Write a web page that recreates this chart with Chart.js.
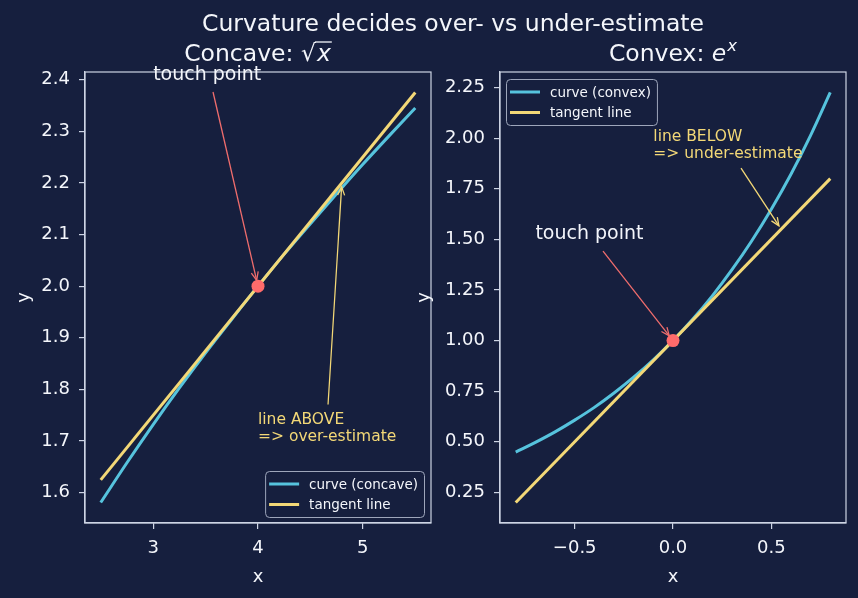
<!DOCTYPE html>
<html>
<head>
<meta charset="utf-8">
<script src="https://cdn.jsdelivr.net/npm/chart.js@4.4.0/dist/chart.umd.min.js"></script>
<style>
html, body { margin: 0; padding: 0; background: #161f3e; }
#wrap { position: relative; width: 858px; height: 598px; }
#wrap canvas { position: absolute; left: 0; top: 0; }
</style>
</head>
<body>
<div id="wrap">
  <canvas id="concaveChart" width="858" height="598"></canvas>
  <canvas id="convexChart" width="858" height="598"></canvas>
</div>
<script>
// Concave panel: sqrt(x) and its tangent at x = 4
const concaveX = [2.5, 2.75, 3.0, 3.25, 3.5, 3.75, 4.0, 4.25, 4.5, 4.75, 5.0, 5.25, 5.5];
const concaveY = [1.581, 1.658, 1.732, 1.803, 1.871, 1.936, 2.000, 2.062, 2.121, 2.179, 2.236, 2.291, 2.345];
const concaveTangentX = [2.5, 5.5];
const concaveTangentY = [1.625, 2.375];
const concaveTouch = [4, 2];
const concaveXTicks = [3, 4, 5];
const concaveYTicks = [1.6, 1.7, 1.8, 1.9, 2.0, 2.1, 2.2, 2.3, 2.4];

// Convex panel: e^x and its tangent at x = 0
const convexX = [-0.8, -0.7, -0.6, -0.5, -0.4, -0.3, -0.2, -0.1, 0.0, 0.1, 0.2, 0.3, 0.4, 0.5, 0.6, 0.7, 0.8];
const convexY = [0.449, 0.497, 0.549, 0.607, 0.670, 0.741, 0.819, 0.905, 1.000, 1.105, 1.221, 1.350, 1.492, 1.649, 1.822, 2.014, 2.226];
const convexTangentX = [-0.8, 0.8];
const convexTangentY = [0.2, 1.8];
const convexTouch = [0, 1];
const convexXTicks = [-0.5, 0.0, 0.5];
const convexYTicks = [0.25, 0.50, 0.75, 1.00, 1.25, 1.50, 1.75, 2.00, 2.25];

const FONT = "'DejaVu Sans', sans-serif";
const CYAN = '#56c3dd';
const YELLOW = '#f3d877';
const RED = '#ff6b6b';
const ARROW_RED = '#f06d6d';
const SPINE = '#cdd4e4';
const TEXT = '#f4f6fb';
const BG = '#161f3e';

Chart.defaults.font.family = FONT;
Chart.defaults.color = TEXT;

function pts(xs, ys) {
    return xs.map((x, i) => ({ x: x, y: ys[i] }));
}

function fmt(v, digits) {
    const s = Math.abs(v).toFixed(digits);
    return v < -1e-9 ? '\u2212' + s : s;
}

function drawArrow(ctx, x1, y1, x2, y2, color, shrink) {
    const ang = Math.atan2(y2 - y1, x2 - x1);
    const ex = x2 - Math.cos(ang) * shrink;
    const ey = y2 - Math.sin(ang) * shrink;
    ctx.strokeStyle = color;
    ctx.lineWidth = 1.3;
    ctx.beginPath();
    ctx.moveTo(x1, y1);
    ctx.lineTo(ex, ey);
    ctx.stroke();
    const hl = 9, hw = 0.4;
    ctx.beginPath();
    ctx.moveTo(ex - hl * Math.cos(ang - hw), ey - hl * Math.sin(ang - hw));
    ctx.lineTo(ex, ey);
    ctx.lineTo(ex - hl * Math.cos(ang + hw), ey - hl * Math.sin(ang + hw));
    ctx.stroke();
}

// frame, titles, annotations and legend box
function makeDecor(cfg) {
    return {
        id: 'decor',
        afterDraw(chart) {
            const { ctx, chartArea: a, scales } = chart;
            const px = v => scales.x.getPixelForValue(v);
            const py = v => scales.y.getPixelForValue(v);
            ctx.save();

            ctx.strokeStyle = SPINE;
            ctx.lineWidth = 1.2;
            ctx.strokeRect(a.left, a.top, a.right - a.left, a.bottom - a.top);

            // annotations
            cfg.notes.forEach(n => {
                drawArrow(ctx, px(n.from[0]), py(n.from[1]), px(n.to[0]), py(n.to[1]), n.arrow, n.shrink);
                ctx.fillStyle = n.color;
                ctx.font = n.size + 'px ' + FONT;
                ctx.textAlign = 'left';
                ctx.textBaseline = 'alphabetic';
                const lines = n.text.split('\n');
                lines.forEach((t, i) => {
                    ctx.fillText(t, px(n.at[0]), py(n.at[1]) - (lines.length - 1 - i) * n.spacing);
                });
            });

            // legend
            const lg = cfg.legend;
            const items = chart.data.datasets.filter(d => d.label).sort((p, q) => p.legendIndex - q.legendIndex);
            ctx.font = '13.5px ' + FONT;
            const tw = Math.max(...items.map(d => ctx.measureText(d.label).width));
            const w = 4 + 30 + 10 + tw + 6, h = 46;
            const bx = lg.corner === 'br' ? a.right - 7 - w : a.left + 6;
            const by = lg.corner === 'br' ? a.bottom - 6 - h : a.top + 7;
            ctx.fillStyle = BG;
            ctx.strokeStyle = '#9ea6bb';
            ctx.lineWidth = 1;
            ctx.beginPath();
            ctx.roundRect(bx + 0.5, by + 0.5, w, h, 4);
            ctx.fill();
            ctx.stroke();
            items.forEach((d, i) => {
                const ly = by + 13 + i * 20.5;
                ctx.strokeStyle = d.borderColor;
                ctx.lineWidth = 3;
                ctx.beginPath();
                ctx.moveTo(bx + 4, ly);
                ctx.lineTo(bx + 34, ly);
                ctx.stroke();
                ctx.fillStyle = TEXT;
                ctx.textBaseline = 'middle';
                ctx.fillText(d.label, bx + 44, ly + 1);
            });

            // axes title (mathtext-like)
            const cx = (a.left + a.right) / 2;
            const base = a.top - 11;
            ctx.fillStyle = TEXT;
            ctx.textBaseline = 'alphabetic';
            ctx.textAlign = 'left';
            const reg = '23.5px ' + FONT, ita = 'italic 23.5px ' + FONT, sup = 'italic 16.5px ' + FONT;
            if (cfg.kind === 'sqrt') {
                ctx.font = reg; const w1 = ctx.measureText('Concave: ').width;
                const w2 = ctx.measureText('\u221a').width;
                ctx.font = ita; const w3 = ctx.measureText('x').width + 2;
                let x0 = cx - (w1 + w2 + w3) / 2;
                ctx.font = reg;
                ctx.fillText('Concave: ', x0, base);
                ctx.fillText('\u221a', x0 + w1, base);
                ctx.font = ita;
                ctx.fillText('x', x0 + w1 + w2 + 1, base);
                ctx.strokeStyle = TEXT; ctx.lineWidth = 1.3;
                ctx.beginPath();
                ctx.moveTo(x0 + w1 + w2 - 1, base - 19);
                ctx.lineTo(x0 + w1 + w2 + w3, base - 19);
                ctx.stroke();
            } else {
                ctx.font = reg; const w1 = ctx.measureText('Convex: ').width;
                ctx.font = ita; const w2 = ctx.measureText('e').width + 1;
                ctx.font = sup; const w3 = ctx.measureText('x').width;
                let x0 = cx - (w1 + w2 + w3) / 2;
                ctx.font = reg; ctx.fillText('Convex: ', x0, base);
                ctx.font = ita; ctx.fillText('e', x0 + w1, base);
                ctx.font = sup; ctx.fillText('x', x0 + w1 + w2, base - 10);
            }

            if (cfg.suptitle) {
                ctx.font = '23.5px ' + FONT;
                ctx.textAlign = 'center';
                ctx.fillText(cfg.suptitle, 453, 31);
            }
            ctx.restore();
        }
    };
}

function panelOptions(p) {
    return {
        responsive: false,
        animation: false,
        devicePixelRatio: 1,
        layout: { padding: { left: p.padLeft, right: p.padRight, top: 72, bottom: 10 } },
        plugins: { legend: { display: false }, tooltip: { enabled: false } },
        scales: {
            x: {
                type: 'linear', min: p.xMin, max: p.xMax,
                afterBuildTicks: axis => { axis.ticks = p.xTicks.map(v => ({ value: v })); },
                afterFit: axis => { axis.height = 65; },
                ticks: { color: TEXT, font: { size: 18 }, padding: 9, maxRotation: 0,
                         callback: v => fmt(v, p.xDigits) },
                grid: { drawOnChartArea: false, drawTicks: true, tickLength: 6, color: SPINE, lineWidth: 1.2 },
                border: { display: true, color: SPINE, width: 1.2 },
                title: { display: true, text: 'x', color: TEXT, font: { size: 18 }, padding: 0 }
            },
            y: {
                type: 'linear', min: p.yMin, max: p.yMax,
                afterBuildTicks: axis => { axis.ticks = p.yTicks.map(v => ({ value: v })); },
                afterFit: axis => { axis.width = p.yWidth; },
                ticks: { color: TEXT, font: { size: 18 }, padding: 9,
                         callback: v => fmt(v, p.yDigits) },
                grid: { drawOnChartArea: false, drawTicks: true, tickLength: 6, color: SPINE, lineWidth: 1.2 },
                border: { display: true, color: SPINE, width: 1.2 },
                title: { display: true, text: 'y', color: TEXT, font: { size: 18 }, padding: 0 }
            }
        }
    };
}

function panelData(curveLabel, cx, cy, tx, ty, touch) {
    return {
        datasets: [
            { data: [{ x: touch[0], y: touch[1] }], showLine: false, pointRadius: 6.5,
              pointBackgroundColor: RED, pointBorderWidth: 0, order: 0 },
            { label: 'tangent line', legendIndex: 1, data: pts(tx, ty), showLine: true,
              borderColor: YELLOW, borderWidth: 3, pointRadius: 0, order: 1 },
            { label: curveLabel, legendIndex: 0, data: pts(cx, cy), showLine: true,
              borderColor: CYAN, borderWidth: 3, pointRadius: 0, cubicInterpolationMode: 'monotone', order: 2 }
        ]
    };
}

new Chart(document.getElementById('concaveChart'), {
    type: 'scatter',
    data: panelData('curve (concave)', concaveX, concaveY, concaveTangentX, concaveTangentY, concaveTouch),
    options: panelOptions({
        padLeft: 14, padRight: 427, yWidth: 71,
        xMin: 2.35, xMax: 5.65, yMin: 1.5414, yMax: 2.4147,
        xTicks: concaveXTicks, yTicks: concaveYTicks, xDigits: 0, yDigits: 1
    }),
    plugins: [makeDecor({
        kind: 'sqrt',
        suptitle: 'Curvature decides over- vs under-estimate',
        legend: { corner: 'br' },
        notes: [
            { text: 'touch point', at: [3.0, 2.4], from: [3.571, 2.376], to: [4, 2], size: 19,
              spacing: 20, color: TEXT, arrow: ARROW_RED, shrink: 6 },
            { text: 'line ABOVE\n=> over-estimate', at: [4.0, 1.7], from: [4.668, 1.771], to: [4.8, 2.2],
              size: 15.5, spacing: 17, color: YELLOW, arrow: YELLOW, shrink: 4 }
        ]
    })]
});

new Chart(document.getElementById('convexChart'), {
    type: 'scatter',
    data: panelData('curve (convex)', convexX, convexY, convexTangentX, convexTangentY, convexTouch),
    options: panelOptions({
        padLeft: 414, padRight: 12, yWidth: 86,
        xMin: -0.88, xMax: 0.88, yMin: 0.0987, yMax: 2.3268,
        xTicks: convexXTicks, yTicks: convexYTicks, xDigits: 1, yDigits: 2
    }),
    plugins: [makeDecor({
        kind: 'exp',
        legend: { corner: 'tl' },
        notes: [
            { text: 'touch point', at: [-0.7, 1.5], from: [-0.356, 1.442], to: [0, 1], size: 19,
              spacing: 20, color: TEXT, arrow: ARROW_RED, shrink: 6 },
            { text: 'line BELOW\n=> under-estimate', at: [-0.1, 1.9], from: [0.346, 1.852], to: [0.55, 1.55],
              size: 15.5, spacing: 17, color: YELLOW, arrow: YELLOW, shrink: 4 }
        ]
    })]
});
</script>
</body>
</html>
